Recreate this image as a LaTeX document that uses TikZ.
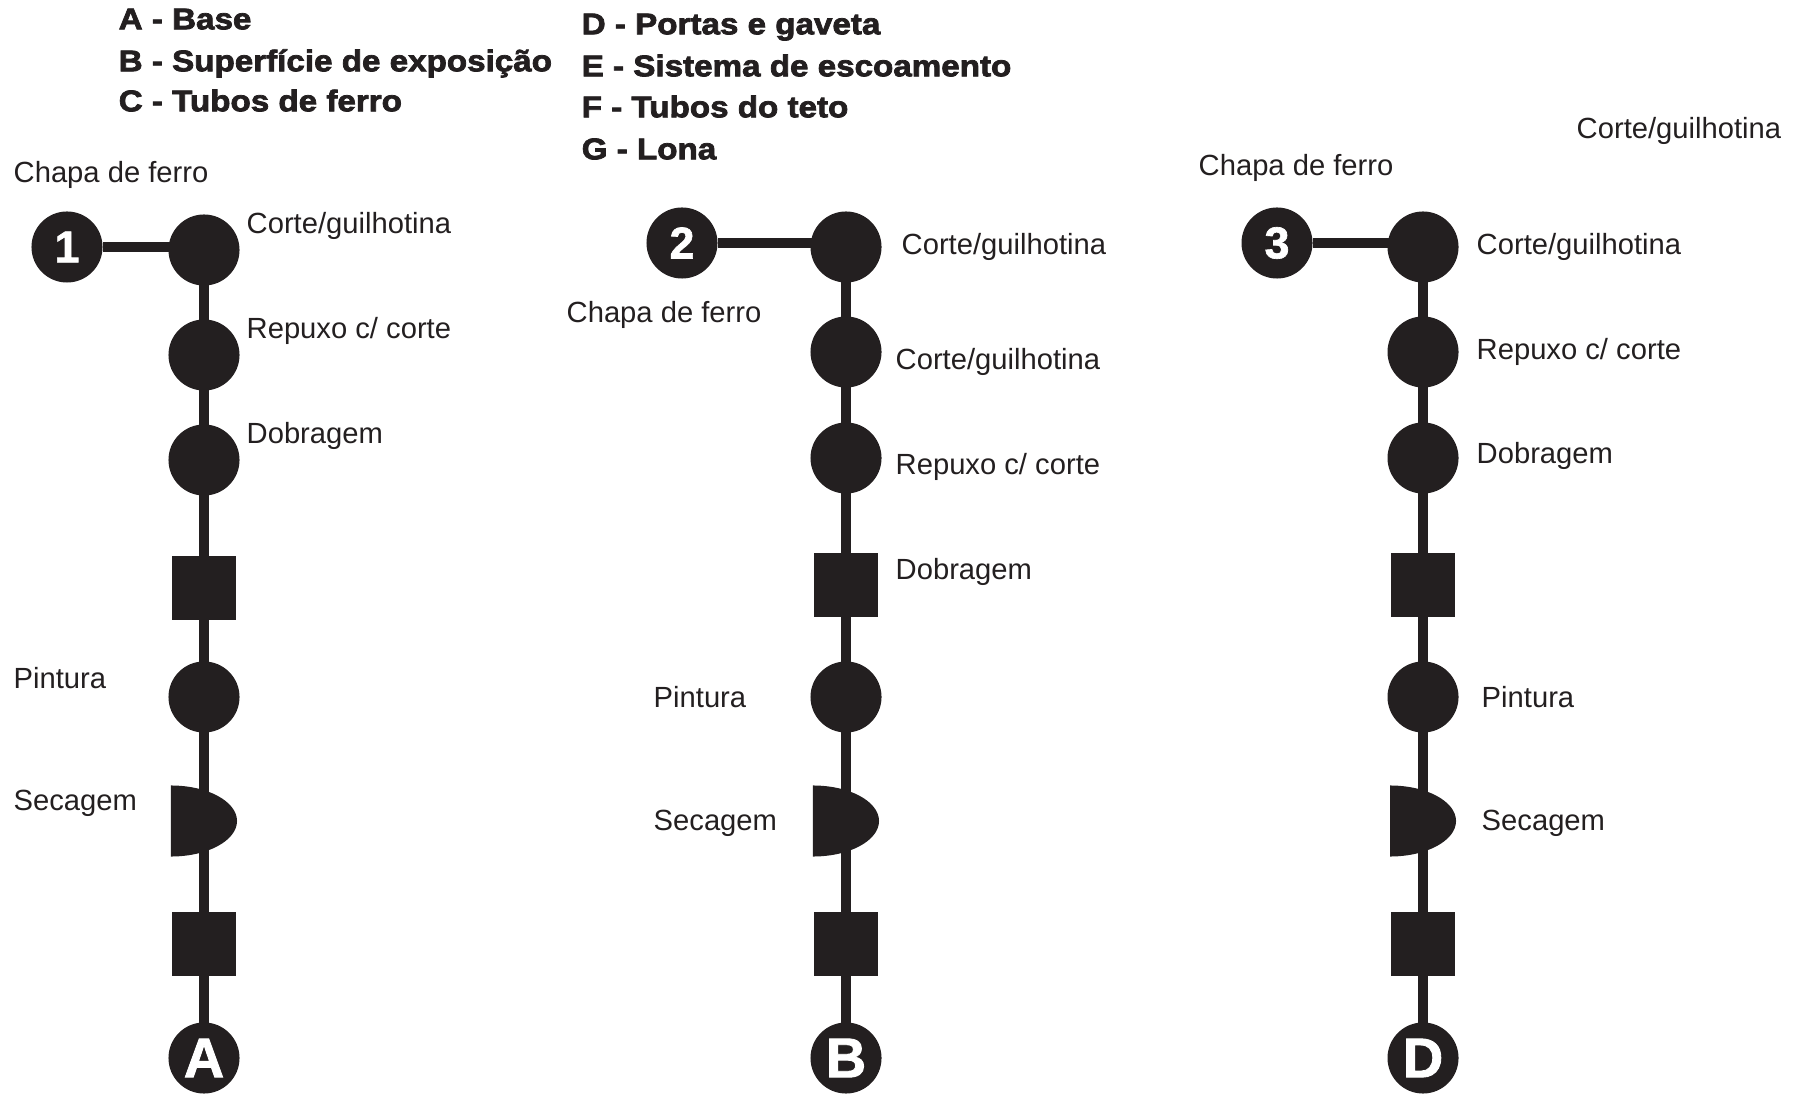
\documentclass[tikz,border=0pt]{standalone}
\usepackage{fontspec}
\setmainfont{Liberation Sans}
\newfontfamily\legendfont{Liberation Sans Bold}[FakeStretch=1.11,FakeBold=2.5]
\newfontfamily\badgefont{Liberation Sans Bold}[FakeBold=1.5]
\usepackage{xcolor}
\usepackage{tikz}
\usetikzlibrary{shapes.geometric,backgrounds}

\definecolor{ink}{HTML}{231F20}

\begin{document}
\begin{tikzpicture}[
  x=0.01cm, y=0.01cm,
  op/.style={circle, fill=ink, minimum size=0.71cm, inner sep=0pt},
  insp/.style={rectangle, fill=ink, minimum size=0.64cm, inner sep=0pt},
  dryer/.style={rectangle, minimum width=0.66cm, minimum height=0.71cm,
    inner sep=0pt, path picture={\fill[ink] (path picture bounding box.north west)
    arc[start angle=90, end angle=-90, x radius=0.66cm, y radius=0.355cm] -- cycle;}},
  badge/.style={circle, fill=ink, minimum size=0.71cm, inner sep=0pt,
    text=white, font={\badgefont\fontsize{12.7}{14}\selectfont}},
  endp/.style={badge, font={\badgefont\fontsize{15.9}{17}\selectfont}},
  lbl/.style={anchor=mid west, inner sep=0pt, text=ink,
    font={\fontsize{8.3}{10}\selectfont}},
  leg/.style={anchor=mid west, inner sep=0pt, text=ink,
    font={\legendfont\fontsize{8.5}{10}\selectfont}},
  link/.style={draw=ink, line width=0.105cm}
]
  \useasboundingbox (0,0) rectangle (1804,-1095);

  \node[leg] (legA) at (118,-20) {A - Base};
  \node[leg] (legB) at (118,-62) {B - Superfície de exposição};
  \node[leg] (legC) at (118,-102) {C - Tubos de ferro};
  \node[leg] (legD) at (581,-25) {D - Portas e gaveta};
  \node[leg] (legE) at (581,-67) {E - Sistema de escoamento};
  \node[leg] (legF) at (581,-108) {F - Tubos do teto};
  \node[leg] (legG) at (581,-150) {G - Lona};

  % linha 1
  \node[badge] (b1) at (67,-247) {1};
  \node[op] (p11) at (204,-250) {};
  \node[op] (p12) at (204,-355) {};
  \node[op] (p13) at (204,-460) {};
  \node[insp] (p14) at (204,-588) {};
  \node[op] (p15) at (204,-697) {};
  \node[dryer] (p16) at (204,-821) {};
  \node[insp] (p17) at (204,-944) {};
  \node[endp] (e1) at (204,-1058) {A};

  \node[lbl] (t10) at (13,-173) {Chapa de ferro};
  \node[lbl] (t11) at (246,-224) {Corte/guilhotina};
  \node[lbl] (t12) at (246,-329) {Repuxo c/ corte};
  \node[lbl] (t13) at (246,-434) {Dobragem};
  \node[lbl] (t15) at (13,-679) {Pintura};
  \node[lbl] (t16) at (13,-801) {Secagem};

  % linha 2
  \node[badge] (b2) at (682,-243) {2};
  \node[op] (p21) at (846,-247) {};
  \node[op] (p22) at (846,-352) {};
  \node[op] (p23) at (846,-458) {};
  \node[insp] (p24) at (846,-585) {};
  \node[op] (p25) at (846,-697) {};
  \node[dryer] (p26) at (846,-821) {};
  \node[insp] (p27) at (846,-944) {};
  \node[endp] (e2) at (846,-1058) {B};

  \node[lbl] (t21) at (901,-245) {Corte/guilhotina};
  \node[lbl] (t20) at (566,-313) {Chapa de ferro};
  \node[lbl] (t22) at (895,-360) {Corte/guilhotina};
  \node[lbl] (t23) at (895,-465) {Repuxo c/ corte};
  \node[lbl] (t24) at (895,-570) {Dobragem};
  \node[lbl] (t25) at (653,-698) {Pintura};
  \node[lbl] (t26) at (653,-821) {Secagem};

  % linha 3
  \node[badge] (b3) at (1277,-243) {3};
  \node[op] (p31) at (1423,-247) {};
  \node[op] (p32) at (1423,-352) {};
  \node[op] (p33) at (1423,-458) {};
  \node[insp] (p34) at (1423,-585) {};
  \node[op] (p35) at (1423,-697) {};
  \node[dryer] (p36) at (1423,-821) {};
  \node[insp] (p37) at (1423,-944) {};
  \node[endp] (e3) at (1423,-1058) {D};

  \node[lbl] (t30) at (1198,-166) {Chapa de ferro};
  \node[lbl] (t3x) at (1576,-129) {Corte/guilhotina};
  \node[lbl] (t31) at (1476,-245) {Corte/guilhotina};
  \node[lbl] (t32) at (1476,-350) {Repuxo c/ corte};
  \node[lbl] (t33) at (1476,-454) {Dobragem};
  \node[lbl] (t35) at (1481,-698) {Pintura};
  \node[lbl] (t36) at (1481,-821) {Secagem};

  \begin{scope}[on background layer]
    \draw[link] (b1) -- (b1 -| p11) (p11.center) -- (p12.center) -- (p13.center)
      -- (p14.center) -- (p15.center) -- (p16.center) -- (p17.center) -- (e1.center);
    \draw[link] (b2) -- (b2 -| p21) (p21.center) -- (p22.center) -- (p23.center)
      -- (p24.center) -- (p25.center) -- (p26.center) -- (p27.center) -- (e2.center);
    \draw[link] (b3) -- (b3 -| p31) (p31.center) -- (p32.center) -- (p33.center)
      -- (p34.center) -- (p35.center) -- (p36.center) -- (p37.center) -- (e3.center);
  \end{scope}
\end{tikzpicture}
\end{document}
